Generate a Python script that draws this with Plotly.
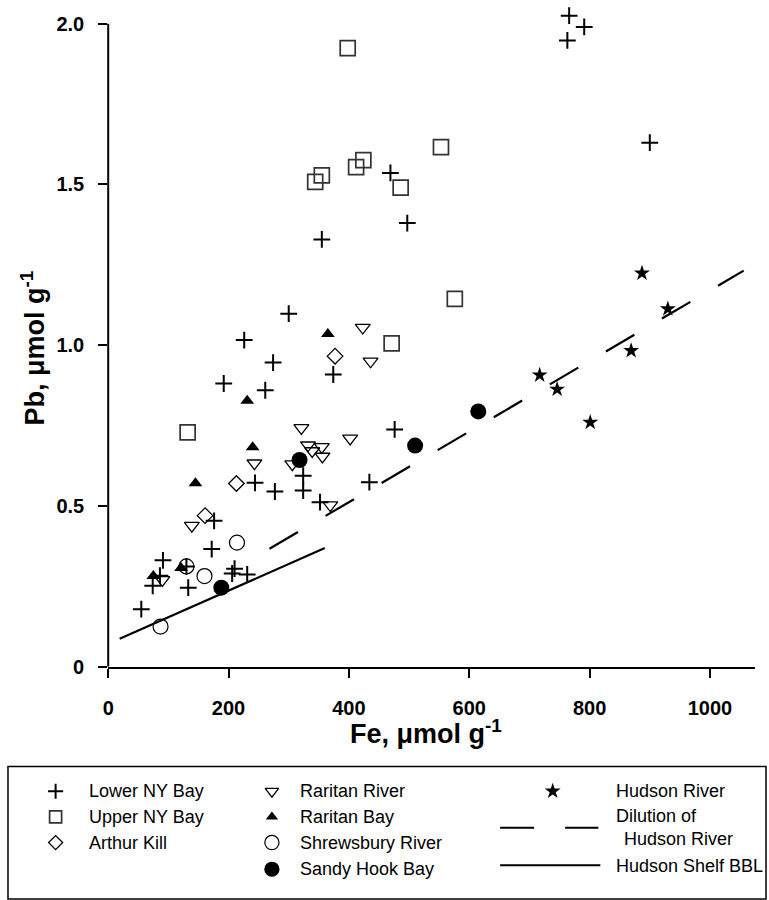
import plotly.graph_objects as go

W, H = 769, 900

# ---------------- data (Fe, Pb in umol/g) ----------------
lower_ny_fe = [766, 791, 763, 900, 469, 497, 355, 300, 226, 274, 374, 192, 261, 476,
               324, 434, 244, 324, 277, 352, 176, 172, 91, 130, 74, 86, 210, 206, 231, 133, 55]
lower_ny_pb = [2.025, 1.99, 1.948, 1.63, 1.536, 1.38, 1.329, 1.098, 1.016, 0.946, 0.909, 0.881, 0.86, 0.738,
               0.594, 0.574, 0.572, 0.548, 0.545, 0.512, 0.454, 0.366, 0.331, 0.312, 0.252, 0.283, 0.305, 0.29, 0.287, 0.246, 0.179]

upper_ny_fe = [398, 344, 355, 412, 424, 553, 486, 576, 471, 132]
upper_ny_pb = [1.924, 1.508, 1.528, 1.554, 1.576, 1.616, 1.49, 1.144, 1.006, 0.729]

arthur_fe = [377, 213, 161]
arthur_pb = [0.966, 0.57, 0.47]

raritan_river_fe = [423, 436, 321, 402, 332, 355, 339, 356, 306, 243, 369, 139, 90]
raritan_river_pb = [1.055, 0.95, 0.743, 0.71, 0.689, 0.684, 0.671, 0.654, 0.63, 0.633, 0.503, 0.439, 0.27]

raritan_bay_fe = [365, 231, 240, 145, 121, 75]
raritan_bay_pb = [1.035, 0.827, 0.683, 0.571, 0.307, 0.282]

shrewsbury_fe = [214, 130, 160, 87]
shrewsbury_pb = [0.386, 0.312, 0.282, 0.125]

sandy_hook_fe = [615, 510, 318, 188]
sandy_hook_pb = [0.794, 0.688, 0.643, 0.246]

hudson_fe = [887, 930, 869, 717, 746, 801]
hudson_pb = [1.224, 1.113, 0.983, 0.907, 0.863, 0.76]

dilution_fe = [268, 1056]
dilution_pb = [0.367, 1.232]

shelf_fe = [19, 360]
shelf_pb = [0.087, 0.369]

x_ticks = [0, 200, 400, 600, 800, 1000]
x_ticklabels = ["0", "200", "400", "600", "800", "1000"]
y_ticks = [0, 0.5, 1.0, 1.5, 2.0]
y_ticklabels = ["0", "0.5", "1.0", "1.5", "2.0"]
y_axis_top = 2.0

x_title = "Fe, μmol g<sup>-1</sup>"
y_title = "Pb, μmol g<sup>-1</sup>"

legend_labels = ["Lower NY Bay", "Upper NY Bay", "Arthur Kill",
                 "Raritan River", "Raritan Bay", "Shrewsbury River", "Sandy Hook Bay",
                 "Hudson River", "Dilution of", "Hudson River", "Hudson Shelf BBL"]

# ---------------- styles ----------------
BLACK = "#000000"
FONT = "Arial, Liberation Sans, sans-serif"

styles = {
    "Lower NY Bay": dict(symbol="cross-thin", size=12, color=BLACK, line=dict(color=BLACK, width=2)),
    "Upper NY Bay": dict(symbol="square-open", size=15, color="#333333", line=dict(color="#333333", width=1.7)),
    "Arthur Kill": dict(symbol="diamond-open", size=12, color=BLACK, line=dict(color=BLACK, width=1.3)),
    "Raritan River": dict(symbol="triangle-down-open", size=13, color=BLACK, line=dict(color=BLACK, width=1.3)),
    "Raritan Bay": dict(symbol="triangle-up", size=12, color=BLACK, line=dict(color=BLACK, width=0)),
    "Shrewsbury River": dict(symbol="circle-open", size=15, color=BLACK, line=dict(color=BLACK, width=1.2)),
    "Sandy Hook Bay": dict(symbol="circle", size=16, color=BLACK, line=dict(color=BLACK, width=0)),
    "Hudson River": dict(symbol="star", size=12, color=BLACK, line=dict(color=BLACK, width=0)),
}

series = [
    ("Lower NY Bay", lower_ny_fe, lower_ny_pb),
    ("Upper NY Bay", upper_ny_fe, upper_ny_pb),
    ("Arthur Kill", arthur_fe, arthur_pb),
    ("Raritan River", raritan_river_fe, raritan_river_pb),
    ("Raritan Bay", raritan_bay_fe, raritan_bay_pb),
    ("Shrewsbury River", shrewsbury_fe, shrewsbury_pb),
    ("Sandy Hook Bay", sandy_hook_fe, sandy_hook_pb),
    ("Hudson River", hudson_fe, hudson_pb),
]

fig = go.Figure()

fig.add_trace(go.Scatter(x=dilution_fe, y=dilution_pb, mode="lines", name="Dilution of Hudson River",
                         line=dict(color=BLACK, width=2.2, dash="33px,32px"), showlegend=False))
fig.add_trace(go.Scatter(x=shelf_fe, y=shelf_pb, mode="lines", name="Hudson Shelf BBL",
                         line=dict(color=BLACK, width=2.2), showlegend=False))

for name, fe, pb in series:
    fig.add_trace(go.Scatter(x=fe, y=pb, mode="markers", name=name, cliponaxis=False,
                             marker=styles[name], showlegend=False))

# ---------------- custom legend (pixel coordinate overlay) ----------------
def px2paper_y(py):
    return 1 - py / H

col1_sym_x, col1_txt_x = 50, 82
col2_sym_x, col2_txt_x = 268, 294
col3_sym_x, col3_txt_x = 551, 613
rows = [801, 827, 853, 880]

legend_markers = [
    ("Lower NY Bay", col1_sym_x, rows[0], 0.9),
    ("Upper NY Bay", col1_sym_x, rows[1], 0.8),
    ("Arthur Kill", col1_sym_x, rows[2], 0.9),
    ("Raritan River", col2_sym_x, rows[0], 0.9),
    ("Raritan Bay", col2_sym_x, rows[1], 0.9),
    ("Shrewsbury River", col2_sym_x, rows[2], 0.95),
    ("Sandy Hook Bay", col2_sym_x, rows[3], 0.95),
    ("Hudson River", col3_sym_x, rows[0], 1.0),
]
for name, lx, ly, scale in legend_markers:
    m = dict(styles[name])
    m["size"] = styles[name]["size"] * scale
    fig.add_trace(go.Scatter(x=[lx], y=[ly], mode="markers", xaxis="x2", yaxis="y2",
                             marker=m, showlegend=False, hoverinfo="skip", cliponaxis=False))

fig.add_trace(go.Scatter(x=[498, 597], y=[838, 838], mode="lines", xaxis="x2", yaxis="y2",
                         line=dict(color=BLACK, width=2, dash="34px,31px"), showlegend=False, hoverinfo="skip"))
fig.add_trace(go.Scatter(x=[498, 599], y=[876, 876], mode="lines", xaxis="x2", yaxis="y2",
                         line=dict(color=BLACK, width=2), showlegend=False, hoverinfo="skip"))

legend_text_pos = [
    (col1_txt_x, rows[0]), (col1_txt_x, rows[1]), (col1_txt_x, rows[2]),
    (col2_txt_x, rows[0]), (col2_txt_x, rows[1]), (col2_txt_x, rows[2]), (col2_txt_x, rows[3]),
    (col3_txt_x, rows[0]), (col3_txt_x, 826), (col3_txt_x + 8, 849), (col3_txt_x, 877),
]
annotations = []
for label, (tx, ty) in zip(legend_labels, legend_text_pos):
    annotations.append(dict(x=tx / W, y=px2paper_y(ty), xref="paper", yref="paper",
                            text=label, showarrow=False, xanchor="left", yanchor="middle",
                            font=dict(family=FONT, size=18, color=BLACK)))

# axis titles
annotations.append(dict(x=423 / W, y=px2paper_y(741), xref="paper", yref="paper", text=x_title,
                        showarrow=False, xanchor="center", yanchor="middle",
                        font=dict(family=FONT, size=27, color=BLACK, weight="bold")))
annotations.append(dict(x=27 / W, y=px2paper_y(352), xref="paper", yref="paper", text=y_title,
                        showarrow=False, xanchor="center", yanchor="middle", textangle=-90,
                        font=dict(family=FONT, size=27, color=BLACK, weight="bold")))

# y range extends slightly above 2.0 so the topmost point is still drawn;
# the visible y axis line stops at 2.0 as in the original
PX_PER_UNIT = 651 / 2.0
y_range_top = 2.04
y_domain_top_px = 675 - PX_PER_UNIT * y_range_top

shapes = [
    dict(type="rect", xref="paper", yref="paper",
         x0=2 / W, x1=766 / W, y0=px2paper_y(910), y1=px2paper_y(776),
         line=dict(color=BLACK, width=1.5), fillcolor="rgba(0,0,0,0)"),
    dict(type="line", xref="x domain", yref="y", x0=0, x1=0, y0=0, y1=y_axis_top,
         line=dict(color=BLACK, width=2)),
]

axis_common = dict(showgrid=False, zeroline=False, linecolor=BLACK, linewidth=2,
                   ticks="outside", ticklen=9, tickwidth=2, tickcolor=BLACK,
                   tickfont=dict(family=FONT, size=20, color=BLACK, weight="bold"), mirror=False,
                   fixedrange=True)

fig.update_layout(
    width=W, height=H,
    margin=dict(l=0, r=0, t=0, b=0, pad=0),
    paper_bgcolor="white", plot_bgcolor="rgba(0,0,0,0)",
    showlegend=False,
    xaxis=dict(domain=[103 / W, 755 / W], range=[0, 1075], tickvals=x_ticks, ticktext=x_ticklabels,
               anchor="y", ticklabelstandoff=13, showline=True, **axis_common),
    yaxis=dict(domain=[px2paper_y(675), px2paper_y(y_domain_top_px)], range=[0, y_range_top],
               tickvals=y_ticks, ticktext=y_ticklabels, anchor="x", ticklabelstandoff=10,
               showline=False, **axis_common),
    xaxis2=dict(domain=[0, 1], range=[0, W], visible=False, anchor="y2", fixedrange=True),
    yaxis2=dict(domain=[0, 1], range=[H, 0], visible=False, anchor="x2", fixedrange=True),
    annotations=annotations,
    shapes=shapes,
)

fig.write_html("out.html",
               config={"displayModeBar": False},
               post_script="document.body.style.margin='0';document.body.style.padding='0';"
                           "document.documentElement.style.overflow='hidden';")
